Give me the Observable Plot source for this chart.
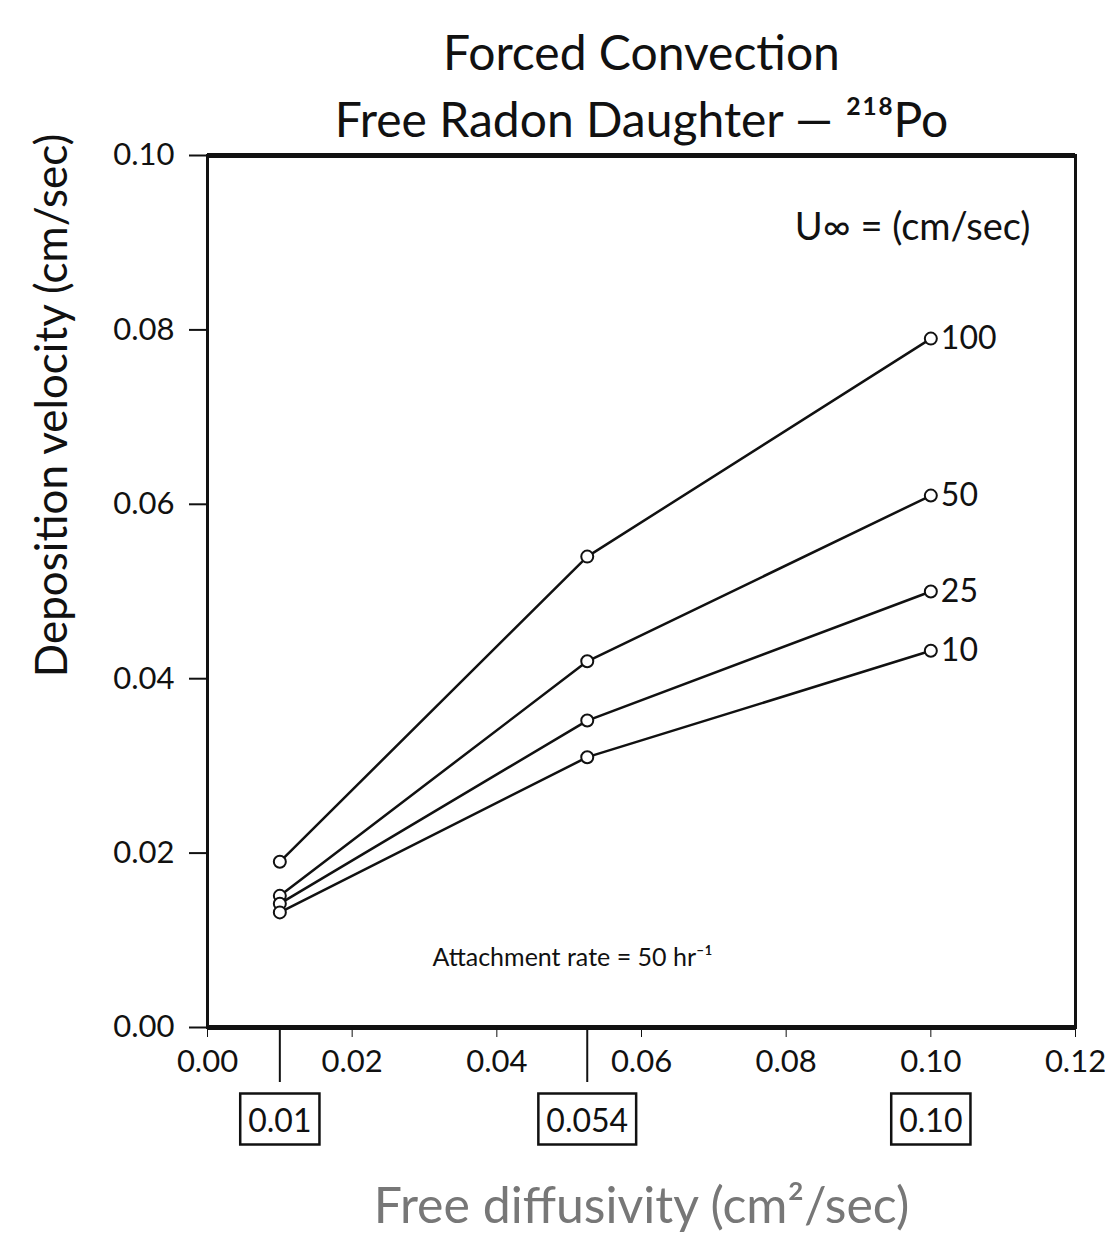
<!DOCTYPE html>
<html><head><meta charset="utf-8">
<script src="https://cdn.jsdelivr.net/npm/d3@7"></script>
<script src="https://cdn.jsdelivr.net/npm/@observablehq/plot@0.6"></script>
<style>body{margin:0;background:#fff} svg{display:block}</style>
</head><body><div id="chart"></div>
<script>
// ---- data ----
const diffusivity = [0.01, 0.0525, 0.10];
const diffusivityLabels = ["0.01", "0.054", "0.10"];
const speeds = ["100", "50", "25", "10"];
const dep100 = [0.019, 0.054, 0.079];
const dep50 = [0.0151, 0.042, 0.061];
const dep25 = [0.0142, 0.0352, 0.050];
const dep10 = [0.0132, 0.031, 0.0432];
const xTicks = [0, 0.02, 0.04, 0.06, 0.08, 0.10, 0.12];
const yTicks = [0, 0.02, 0.04, 0.06, 0.08, 0.10];
const titleLines = ["Forced Convection", "Free Radon Daughter — ²¹⁸Po"];
const xTitle = "Free diffusivity (cm²/sec)";
const yTitle = "Deposition velocity (cm/sec)";
const legendTitle = "U∞ = (cm/sec)";
const note = "Attachment rate = 50 hr⁻¹";

const series = [dep100, dep50, dep25, dep10];
const rows = [];
speeds.forEach((s, i) => diffusivity.forEach((d, j) => rows.push({speed: s, x: d, y: series[i][j]})));
const boxRows = diffusivity.map((d, i) => ({x: d, label: diffusivityLabels[i]}));

const font = "Lato, 'Noto Sans', 'DejaVu Sans', sans-serif";

const chart = Plot.plot({
  width: 1105, height: 1239,
  marginTop: 155, marginBottom: 212, marginLeft: 207, marginRight: 30,
  style: {fontFamily: font, fontSize: "34px", color: "#111", background: "#fff"},
  x: {domain: [0, 0.12]},
  y: {domain: [0, 0.10]},
  marks: [
    Plot.frame({strokeWidth: 3, stroke: "#111"}),
    Plot.ruleY([0, 0.10], {strokeWidth: 5, stroke: "#111"}),
    Plot.axisY({ticks: yTicks, tickFormat: d3.format(".2f"), tickSize: 18, tickPadding: 15, fontSize: 31, strokeWidth: 2, label: null}),
    Plot.axisX({ticks: xTicks, tickFormat: d3.format(".2f"), tickSize: 10, tickPadding: 12, fontSize: 31, label: null}),
    Plot.axisX([diffusivity[0], diffusivity[1]], {tickSize: 55, tickFormat: () => "", label: null, strokeWidth: 2}),
    Plot.text(boxRows, {x: "x", text: "label", frameAnchor: "bottom", dy: 104, fontSize: 32, ariaDescription: "boxlab"}),
    Plot.line(rows, {x: "x", y: "y", z: "speed", stroke: "#111", strokeWidth: 2.5}),
    Plot.dot(rows, {x: "x", y: "y", r: 6, fill: "#fff", stroke: "#111", strokeWidth: 2}),
    Plot.text(rows, Plot.selectLast({x: "x", y: "y", z: "speed", text: "speed", dx: 10, textAnchor: "start", fontSize: 32})),
    Plot.text([legendTitle], {frameAnchor: "top-right", dx: -45, dy: 58, fontSize: 38}),
    Plot.text([note], {frameAnchor: "bottom-left", dx: 225, dy: -62, textAnchor: "start", fontSize: 25}),
    Plot.text([titleLines[0]], {frameAnchor: "top", dy: -120, fontSize: 48}),
    Plot.text([titleLines[1]], {frameAnchor: "top", dy: -53, fontSize: 48}),
    Plot.text([yTitle], {frameAnchor: "top-left", rotate: -90, textAnchor: "middle", lineAnchor: "middle", dx: -155, dy: 250, fontSize: 44}),
    Plot.text([xTitle], {frameAnchor: "bottom", dy: 195, fontSize: 50, fill: "#777"})
  ]
});
document.getElementById("chart").appendChild(chart);

// draw boxes around the boxed diffusivity labels
d3.select(chart).selectAll("g[aria-description=boxlab] text").each(function() {
  const b = this.getBBox();
  const t = this.getAttribute("transform");
  d3.select(this.parentNode).insert("rect", () => this)
    .attr("transform", t)
    .attr("x", b.x - 8).attr("y", b.y - 6)
    .attr("width", b.width + 16).attr("height", b.height + 12)
    .attr("fill", "none").attr("stroke", "#111").attr("stroke-width", 2.5);
});
</script>
</body></html>
